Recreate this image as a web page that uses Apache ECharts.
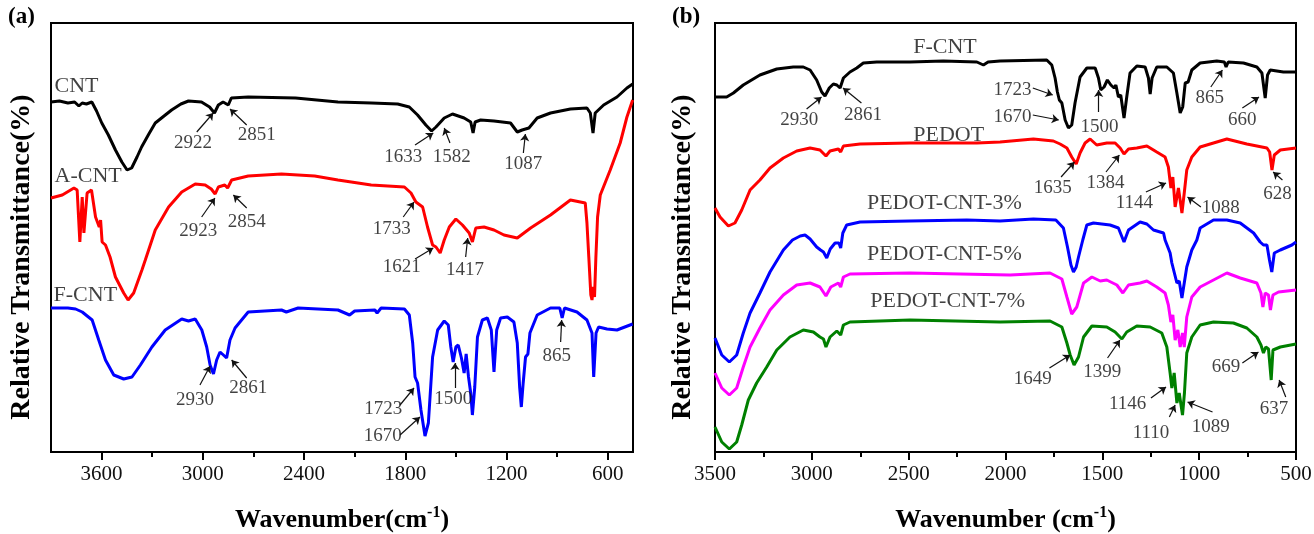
<!DOCTYPE html>
<html><head><meta charset="utf-8">
<script src="https://cdn.jsdelivr.net/npm/echarts@6/dist/echarts.min.js"></script>
<style>html,body{margin:0;padding:0;background:#fff}#c{width:1314px;height:534px}</style>
</head><body><div id="c"></div>
<script>
// ---- Panel (a) data: [wavenumber, relative transmittance (a.u.)] ----
const cntA = [[3900,355],[3850,356],[3800,354],[3760,355],[3735,351],[3715,354],[3690,353],[3658,355],[3630,346],[3599,334],[3560,322],[3518,307],[3480,295],[3449,287],[3422,289],[3390,300],[3363,310],[3320,323],[3282,334],[3230,341],[3185,347],[3130,353],[3085,356],[3008,355],[2960,350],[2931,344],[2908,352],[2880,355],[2849,352],[2831,359],[2731,360],[2450,359],[2199,355],[2000,354],[1845,353],[1776,350],[1727,342],[1678,332],[1644,326],[1618,330],[1569,339],[1520,343],[1451,339],[1412,335],[1398,324],[1386,335],[1353,337],[1274,336],[1176,334],[1136,325],[1107,327],[1067,329],[1018,339],[939,344],[821,348],[723,349],[703,344],[687,324],[674,344],[624,352],[545,360],[486,369],[452,373]];
const acntA = [[3900,259],[3833,262],[3764,269],[3745,267],[3729,215],[3715,260],[3705,224],[3686,264],[3660,267],[3636,240],[3614,230],[3606,237],[3597,215],[3577,212],[3550,200],[3518,180],[3469,164],[3443,157],[3410,164],[3361,187],[3341,197],[3282,227],[3203,250],[3125,265],[3045,273],[2986,272],[2950,268],[2927,263],[2908,270],[2870,272],[2853,269],[2829,277],[2731,281],[2534,283],[2337,281],[2199,277],[2002,272],[1805,270],[1766,264],[1737,255],[1697,250],[1668,230],[1638,212],[1618,210],[1593,204],[1569,217],[1539,230],[1500,238],[1461,232],[1421,224],[1402,215],[1382,229],[1333,230],[1274,227],[1215,222],[1136,219],[1057,229],[939,242],[821,257],[733,254],[723,234],[712,200],[700,162],[693,157],[685,170],[678,160],[670,200],[660,240],[644,262],[585,287],[526,314],[486,340],[452,357]];
const fcntA = [[3900,149],[3800,149],[3754,148],[3715,145],[3656,137],[3617,117],[3577,97],[3528,82],[3469,78],[3420,80],[3370,92],[3302,110],[3223,127],[3125,138],[3085,136],[3045,138],[3006,127],[2977,110],[2957,92],[2937,83],[2918,97],[2898,105],[2878,102],[2859,99],[2839,117],[2809,129],[2780,135],[2731,145],[2534,147],[2505,145],[2435,149],[2199,147],[2130,142],[2100,146],[1980,147],[1967,144],[1943,149],[1805,148],[1776,142],[1756,114],[1742,80],[1727,74],[1707,47],[1683,21],[1663,34],[1638,100],[1608,127],[1569,136],[1545,132],[1530,110],[1516,95],[1500,110],[1486,112],[1467,99],[1451,84],[1439,103],[1425,80],[1412,64],[1402,42],[1388,70],[1372,120],[1343,137],[1313,139],[1290,127],[1274,85],[1258,127],[1235,139],[1195,140],[1156,135],[1136,114],[1122,70],[1112,50],[1101,74],[1087,100],[1073,103],[1061,124],[1018,142],[939,149],[884,149],[870,139],[856,149],[782,145],[723,137],[693,124],[683,80],[669,124],[654,130],[604,128],[545,127],[452,133]];

// ---- Panel (b) data ----
const fcntB = [[3500,360],[3440,360],[3405,364],[3354,372],[3268,382],[3181,388],[3096,390],[3044,390],[3009,387],[2975,377],[2949,365],[2932,361],[2910,369],[2889,373],[2871,372],[2854,369],[2837,379],[2803,385],[2768,389],[2734,394],[2665,395],[2493,395],[2321,396],[2148,395],[2114,392],[2090,395],[2028,396],[1787,397],[1761,392],[1744,379],[1732,365],[1722,357],[1709,354],[1692,337],[1675,329],[1658,332],[1641,354],[1615,380],[1580,389],[1537,389],[1520,379],[1508,367],[1491,370],[1474,377],[1456,372],[1439,369],[1430,372],[1417,360],[1405,362],[1388,339],[1374,360],[1357,384],[1322,391],[1279,390],[1262,379],[1253,363],[1243,379],[1219,390],[1167,390],[1133,384],[1116,365],[1098,344],[1085,350],[1072,374],[1057,375],[1038,387],[995,394],[909,396],[870,395],[861,390],[850,395],[771,394],[702,390],[676,384],[659,359],[647,382],[633,387],[565,385],[500,385]];
const pedotB = [[3500,249],[3474,240],[3431,231],[3397,234],[3362,247],[3319,267],[3268,277],[3216,289],[3147,299],[3078,306],[3009,309],[2958,307],[2927,301],[2906,306],[2863,308],[2851,305],[2837,311],[2751,313],[2493,314],[2148,314],[2028,315],[1856,318],[1753,316],[1718,313],[1683,309],[1658,300],[1635,293],[1615,304],[1589,314],[1563,318],[1529,312],[1477,314],[1434,314],[1408,309],[1388,303],[1365,308],[1322,309],[1270,311],[1219,305],[1176,300],[1159,290],[1146,269],[1136,280],[1124,250],[1107,269],[1089,244],[1077,264],[1064,287],[1038,300],[995,310],[926,314],[857,318],[754,313],[650,309],[636,305],[624,287],[612,302],[581,307],[500,309]];
const p3B = [[3500,119],[3465,102],[3426,95],[3388,102],[3354,124],[3319,144],[3268,164],[3216,185],[3147,207],[3100,217],[3060,221],[3035,222],[3009,218],[2975,210],[2955,207],[2940,205],[2923,199],[2905,208],[2880,214],[2860,214],[2851,209],[2840,224],[2820,232],[2751,235],[2493,236],[2200,237],[2028,236],[1856,238],[1740,237],[1701,229],[1680,210],[1662,192],[1649,185],[1635,190],[1623,200],[1601,217],[1580,232],[1546,234],[1460,232],[1417,229],[1388,215],[1365,227],[1305,235],[1270,233],[1236,227],[1184,224],[1176,217],[1150,204],[1141,194],[1131,195],[1115,174],[1103,176],[1089,159],[1077,174],[1064,190],[1038,207],[1012,217],[995,229],[926,237],[857,237],[788,234],[719,224],[685,215],[668,212],[650,212],[637,197],[625,185],[612,204],[581,207],[521,212],[500,215]];
const p5B = [[3500,84],[3465,69],[3426,62],[3388,69],[3354,90],[3319,110],[3268,129],[3216,147],[3147,162],[3078,172],[3009,174],[2958,170],[2927,161],[2902,170],[2863,174],[2851,170],[2837,180],[2803,183],[2493,184],[1976,182],[1770,184],[1709,178],[1683,160],[1658,143],[1632,150],[1597,174],[1554,180],[1511,176],[1477,177],[1425,172],[1394,164],[1365,172],[1305,174],[1270,176],[1219,170],[1176,164],[1159,152],[1146,135],[1136,142],[1124,117],[1110,127],[1098,110],[1086,124],[1077,110],[1064,140],[1038,160],[995,170],[926,177],[857,184],[788,179],[702,174],[681,164],[671,150],[659,164],[642,162],[632,147],[619,162],[590,165],[500,167]];
const p7B = [[3500,30],[3465,15],[3426,8],[3388,15],[3362,32],[3328,57],[3285,74],[3233,90],[3181,107],[3113,120],[3044,127],[2992,125],[2958,120],[2940,118],[2927,110],[2906,120],[2871,126],[2851,122],[2837,132],[2803,135],[2493,137],[2028,135],[1770,136],[1709,130],[1683,114],[1666,102],[1646,92],[1623,100],[1597,120],[1554,131],[1477,130],[1434,125],[1399,118],[1374,125],[1322,131],[1253,130],[1193,124],[1167,110],[1150,84],[1141,69],[1129,84],[1115,54],[1103,64],[1086,42],[1076,64],[1064,104],[1038,120],[995,132],[926,135],[823,134],[754,129],[702,120],[681,112],[668,104],[656,110],[642,108],[628,77],[619,107],[581,110],[500,113]];

// ---- Tick labels ----
const ticksA = [3600,3000,2400,1800,1200,600];
const minorA = [3300,2700,2100,1500,900];
const ticksB = [3500,3000,2500,2000,1500,1000,500];
const minorB = [3250,2750,2250,1750,1250,750];

// ---- Curve names: [label, wavenumber, value] ----
const namesA = [['CNT',3882,371],['A-CNT',3882,281],['F-CNT',3888,162]];
const namesB = [['F-CNT',2479,410],['PEDOT',2479,322],['PEDOT-CNT-3%',2718,254],['PEDOT-CNT-5%',2718,203],['PEDOT-CNT-7%',2701,156]];

// ---- Peak annotations: [label, textW, textV, tailW, tailV, headW, headV] ----
const annA = [
 ['2922',3058,314,3036,325,2938,344],['2851',2681,322,2740,332,2839,348],
 ['2923',3027,226,3007,240,2928,259],['2854',2740,235,2740,249,2819,262],
 ['1633',1812,300,1742,312,1634,324],['1582',1525,300,1535,314,1569,329],
 ['1087',1100,293,1100,304,1088,323],['1733',1880,228,1812,240,1748,255],
 ['1621',1821,190,1742,198,1634,209],['1417',1446,187,1442,200,1430,219],
 ['2930',3046,57,3017,72,2957,91],['2861',2730,69,2740,79,2829,97],
 ['1723',1930,48,1831,52,1748,69],['1670',1934,21,1831,22,1713,40],
 ['1500',1515,58,1505,69,1505,94],['865',902,101,879,115,873,137]
];
const annB = [
 ['2930',3065,337,3027,348,2950,360],['2861',2736,342,2744,354,2839,369],
 ['1723',1964,367,1859,369,1756,362],['1670',1964,340,1859,342,1725,337],
 ['1500',1515,330,1519,345,1519,367],['865',945,359,940,370,880,387],
 ['660',777,337,777,349,691,360],['1635',1756,269,1713,280,1644,295],
 ['1384',1484,274,1481,285,1412,302],['1144',1335,254,1275,265,1171,274],
 ['1088',888,249,991,250,1060,260],['628',596,263,570,277,618,285],
 ['1649',1859,78,1773,89,1666,102],['1399',1501,85,1473,99,1409,117],
 ['1146',1369,53,1249,59,1171,70],['1110',1249,24,1154,40,1124,52],
 ['1089',940,30,931,45,1060,55],['669',862,90,777,94,694,105],
 ['637',613,48,553,60,587,77]
];

const FONT = '"Liberation Serif","Times New Roman",serif';
const chart = echarts.init(document.getElementById('c'), null, {renderer:'canvas'});

function xMajor(gi, min, max, ticks, title) {
  return {gridIndex:gi, type:'value', inverse:true, min, max, position:'bottom',
    axisLine:{show:true, onZero:false, lineStyle:{color:'#000', width:2}},
    axisTick:{show:true, customValues:ticks, length:8, lineStyle:{color:'#000', width:2}},
    axisLabel:{show:true, customValues:ticks, formatter:(v)=>String(v), fontSize:21, fontFamily:FONT, color:'#111', margin:12},
    splitLine:{show:false},
    name:title, nameLocation:'middle', nameGap:53,
    nameTextStyle:{rich:{
      b:{fontSize:26, fontWeight:'bold', fontFamily:FONT, color:'#000', lineHeight:30},
      s:{fontSize:16, fontWeight:'bold', fontFamily:FONT, color:'#000', verticalAlign:'top', lineHeight:30, padding:[0,0,12,0]}
    }}
  };
}
function xMinor(gi, min, max, ticks) {
  return {gridIndex:gi, type:'value', inverse:true, min, max, position:'bottom',
    axisLine:{show:false, onZero:false},
    axisTick:{show:true, customValues:ticks, length:5, lineStyle:{color:'#000', width:2}},
    axisLabel:{show:false}, splitLine:{show:false}};
}
function yAx(gi) {
  return {gridIndex:gi, type:'value', min:5, max:434,
    axisLine:{show:true, lineStyle:{color:'#000', width:2}},
    axisTick:{show:false}, axisLabel:{show:false}, splitLine:{show:false}};
}
function curve(name, data, color, gi) {
  return {type:'line', name, data, xAxisIndex:gi*2, yAxisIndex:gi, showSymbol:false, symbol:'none',
    lineStyle:{color, width:3}, itemStyle:{color}, z:3, silent:true};
}
function names(list, gi) {
  return {type:'scatter', xAxisIndex:gi*2, yAxisIndex:gi, symbolSize:1, itemStyle:{color:'rgba(0,0,0,0)'}, silent:true, z:5,
    data:list.map(a=>({name:a[0], value:[a[1],a[2]]})),
    label:{show:true, formatter:'{b}', position:'right', distance:0, fontSize:22, fontFamily:FONT, color:'#111'}};
}
function annText(list, gi) {
  return {type:'scatter', xAxisIndex:gi*2, yAxisIndex:gi, symbolSize:1, itemStyle:{color:'rgba(0,0,0,0)'}, silent:true, z:5,
    data:list.map(a=>({name:a[0], value:[a[1],a[2]]})),
    label:{show:true, formatter:'{b}', position:'inside', fontSize:19, fontFamily:FONT, color:'#111'}};
}
function annArrows(list, gi) {
  return {type:'lines', coordinateSystem:'cartesian2d', xAxisIndex:gi*2, yAxisIndex:gi, silent:true, z:5,
    symbol:['none','arrow'], symbolSize:[0,7],
    lineStyle:{color:'#111', width:1.2, opacity:1, curveness:0},
    data:list.map(a=>({coords:[[a[3],a[4]],[a[5],a[6]]]}))};
}

chart.setOption({
  animation:false,
  backgroundColor:'#fff',
  grid:[
    {left:51, top:23, width:582, height:429, show:true, borderColor:'#000', borderWidth:2, containLabel:false, outerBoundsMode:'none'},
    {left:715, top:23, width:581, height:429, show:true, borderColor:'#000', borderWidth:2, containLabel:false, outerBoundsMode:'none'}
  ],
  xAxis:[
    xMajor(0, 450, 3900, ticksA, '{b|Wavenumber(cm}{s|-1}{b|)}'),
    xMinor(0, 450, 3900, minorA),
    xMajor(1, 500, 3500, ticksB, '{b|Wavenumber (cm}{s|-1}{b|)}'),
    xMinor(1, 500, 3500, minorB)
  ],
  yAxis:[yAx(0), yAx(1)],
  graphic:[
    {type:'text', left:8, top:6, style:{text:'(a)', fontSize:23, fontWeight:'bold', fontFamily:FONT, fill:'#000'}},
    {type:'text', left:672, top:6, style:{text:'(b)', fontSize:23, fontWeight:'bold', fontFamily:FONT, fill:'#000'}},
    {type:'text', x:22, y:257, rotation:Math.PI/2, style:{text:'Relative Transmittance(%)', fontSize:28, fontWeight:'bold', fontFamily:FONT, fill:'#000', align:'center', verticalAlign:'middle'}},
    {type:'text', x:683, y:257, rotation:Math.PI/2, style:{text:'Relative Transmittance(%)', fontSize:28, fontWeight:'bold', fontFamily:FONT, fill:'#000', align:'center', verticalAlign:'middle'}}
  ],
  series:[
    curve('CNT', cntA, '#000000', 0),
    curve('A-CNT', acntA, '#ff0000', 0),
    curve('F-CNT', fcntA, '#0000ff', 0),
    curve('F-CNT', fcntB, '#000000', 1),
    curve('PEDOT', pedotB, '#ff0000', 1),
    curve('PEDOT-CNT-3%', p3B, '#0000ff', 1),
    curve('PEDOT-CNT-5%', p5B, '#ff00ff', 1),
    curve('PEDOT-CNT-7%', p7B, '#008000', 1),
    names(namesA, 0), names(namesB, 1),
    annText(annA, 0), annText(annB, 1),
    annArrows(annA, 0), annArrows(annB, 1)
  ]
});
</script></body></html>
